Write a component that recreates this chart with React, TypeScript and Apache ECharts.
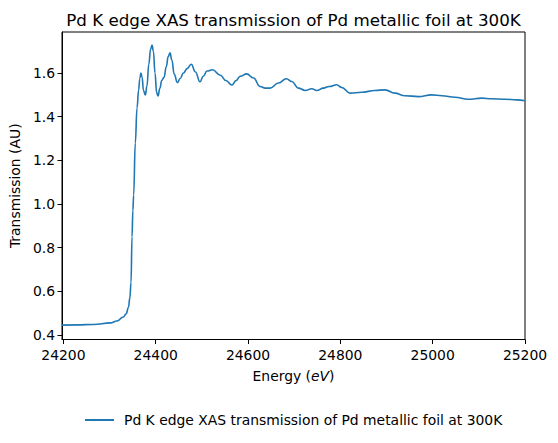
import React, { useEffect, useRef } from "react";
import * as echarts from "echarts";

const title = "Pd K edge XAS transmission of Pd metallic foil at 300K";
const seriesName = "Pd K edge XAS transmission of Pd metallic foil at 300K";

const energy = [
  24197, 24230, 24265, 24302, 24316, 24330, 24336, 24341, 24344, 24346.5,
  24348.7, 24350.5, 24352.2, 24355.8, 24359.5, 24363, 24365.5, 24368, 24370.5, 24373.5,
  24377.5, 24381, 24385, 24389, 24392, 24395, 24398.5, 24402, 24405, 24409,
  24413, 24418, 24423, 24427, 24431, 24435, 24440, 24447, 24453, 24460,
  24468, 24477, 24486, 24496, 24503, 24511, 24523, 24540, 24552, 24565,
  24574, 24583, 24597, 24612, 24626, 24637, 24648, 24666, 24683, 24695,
  24709, 24724, 24738, 24749, 24763, 24776, 24792, 24803, 24821, 24846,
  24875, 24897, 24918, 24940, 24969, 24998, 25020, 25048, 25077, 25106,
  25128, 25157, 25182, 25200,
];

const transmission = [
  0.445, 0.446, 0.448, 0.455, 0.464, 0.482, 0.497, 0.527, 0.57, 0.64,
  0.85, 0.97, 1.04, 1.28, 1.44, 1.522, 1.575, 1.6, 1.58, 1.52,
  1.499, 1.54, 1.64, 1.71, 1.728, 1.7, 1.6, 1.51, 1.495, 1.53,
  1.566, 1.58, 1.63, 1.675, 1.693, 1.66, 1.595, 1.556, 1.575, 1.6,
  1.62, 1.64, 1.605, 1.56, 1.585, 1.609, 1.615, 1.59, 1.566, 1.545,
  1.565, 1.585, 1.596, 1.577, 1.538, 1.531, 1.531, 1.554, 1.574, 1.561,
  1.531, 1.52, 1.528, 1.52, 1.531, 1.538, 1.546, 1.534, 1.508, 1.512,
  1.52, 1.523, 1.508, 1.496, 1.492, 1.5, 1.496, 1.489, 1.48, 1.485,
  1.482, 1.48, 1.477, 1.473,
];

const xTicks = [24200, 24400, 24600, 24800, 25000, 25200];
const yTicks = [0.4, 0.6, 0.8, 1.0, 1.2, 1.4, 1.6];

const FONT = "DejaVu Sans";
const FS = 13.9;

export default function App() {
  const ref = useRef<HTMLDivElement>(null);
  useEffect(() => {
    if (!ref.current) return;
    const chart = echarts.init(ref.current, null, { renderer: "svg" });
    const data = energy.map((e, i) => [e, transmission[i]]);
    chart.setOption({
      animation: false,
      backgroundColor: "#fff",
      textStyle: { fontFamily: FONT, color: "#000" },
      title: {
        text: title,
        left: 293.5,
        textAlign: "center",
        top: 11,
        padding: 0,
        textStyle: { fontFamily: FONT, fontSize: 16.7, fontWeight: "normal", color: "#000" },
      },
      legend: {
        left: 85,
        top: 413,
        padding: 0,
        icon: "rect",
        itemWidth: 29,
        itemHeight: 2,
        textStyle: { fontFamily: FONT, fontSize: FS, color: "#000", padding: [0, 0, 0, 5] },
        data: [seriesName],
      },
      grid: {
        left: 62,
        right: 33,
        top: 32,
        bottom: 103.5,
        show: true,
        borderColor: "#000",
        borderWidth: 1,
        backgroundColor: "transparent",
      },
      xAxis: {
        type: "value",
        min: 24197,
        max: 25200,
        name: "Energy ({i|eV})",
        nameLocation: "middle",
        nameGap: 29,
        nameTextStyle: {
          fontFamily: FONT,
          fontSize: FS,
          color: "#000",
          rich: { i: { fontFamily: FONT, fontSize: FS, fontStyle: "italic", color: "#000" } },
        },
        axisLine: { show: true, lineStyle: { color: "#000", width: 1 } },
        axisTick: { show: true, length: 4.5, lineStyle: { color: "#000" }, customValues: xTicks },
        axisLabel: {
          customValues: xTicks,
          fontFamily: FONT,
          fontSize: FS,
          color: "#000",
          margin: 8,
          showMinLabel: true,
          showMaxLabel: true,
          formatter: (v: number) => String(v),
        },
        splitLine: { show: false },
      },
      yAxis: {
        type: "value",
        min: 0.379,
        max: 1.788,
        name: "Transmission (AU)",
        nameLocation: "middle",
        nameGap: 40,
        nameRotate: 90,
        nameTextStyle: { fontFamily: FONT, fontSize: FS, color: "#000" },
        axisLine: { show: true, lineStyle: { color: "#000", width: 1 } },
        axisTick: { show: true, length: 4.5, lineStyle: { color: "#000" }, customValues: yTicks },
        axisLabel: {
          customValues: yTicks,
          fontFamily: FONT,
          fontSize: FS,
          color: "#000",
          margin: 7,
          formatter: (v: number) => v.toFixed(1),
        },
        splitLine: { show: false },
      },
      series: [
        {
          name: seriesName,
          type: "line",
          data,
          showSymbol: false,
          symbol: "none",
          smooth: 0.45,
          smoothMonotone: "x",
          lineStyle: { color: "#1f77b4", width: 1.6 },
          itemStyle: { color: "#1f77b4" },
        },
      ],
    });
    return () => chart.dispose();
  }, []);
  return (
    <div
      ref={ref}
      style={{ position: "fixed", left: 0, top: 0, width: 558, height: 443 }}
    />
  );
}
